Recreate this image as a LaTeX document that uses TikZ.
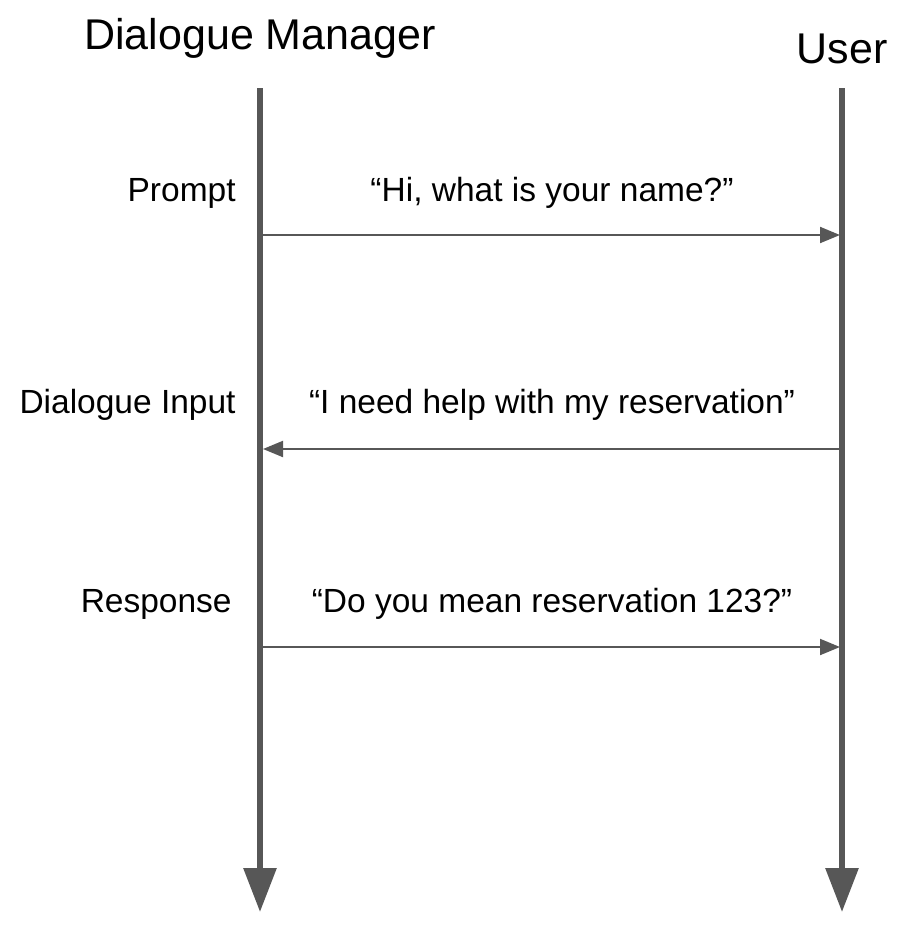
\documentclass[tikz,border=0pt]{standalone}
\usepackage{fontspec}
\setmainfont{Liberation Sans}
\usetikzlibrary{arrows.meta}
\definecolor{linegray}{HTML}{575757}
\tikzset{
  lifeline/.style={draw=linegray, line width=3pt, -{Triangle[width=16pt,length=22pt]}},
  msg/.style={draw=linegray, line width=1pt, -{Triangle[width=8pt,length=10pt]}},
  title/.style={font=\fontsize{21.5}{24}\selectfont, inner sep=0pt},
  lbl/.style={font=\fontsize{16.75}{19}\selectfont, inner sep=0pt}
}
\begin{document}
\begin{tikzpicture}[x=0.5pt,y=-0.5pt]
\useasboundingbox (0,0) rectangle (912,938);
% headers
\node[title] (dm) at (260,38) {Dialogue Manager};
\node[title] (user) at (842,49) {User};
% lifelines
\coordinate (dmtop) at (260,88);
\coordinate (dmend) at (260,912);
\coordinate (usertop) at (842,88);
\coordinate (userend) at (842,912);
\draw[lifeline] (dmtop)--(dmend);
\draw[lifeline] (usertop)--(userend);
% messages
\coordinate (m1a) at (263,235);
\coordinate (m1b) at (840,235);
\coordinate (m2a) at (839,449);
\coordinate (m2b) at (263,449);
\coordinate (m3a) at (263,647);
\coordinate (m3b) at (840,647);
\draw[msg] (m1a)--(m1b);
\draw[msg] (m2a)--(m2b);
\draw[msg] (m3a)--(m3b);
\node[lbl, anchor=east] (prompt) at (236,193) {Prompt};
\node[lbl, anchor=east] (input) at (236,405) {Dialogue Input};
\node[lbl, anchor=east] (resp) at (232,604) {Response};
\node[lbl] (txt1) at (552,193) {“Hi, what is your name?”};
\node[lbl] (txt2) at (552,405) {“I need help with my reservation”};
\node[lbl] (txt3) at (552,604) {“Do you mean reservation 123?”};
\end{tikzpicture}
\end{document}
